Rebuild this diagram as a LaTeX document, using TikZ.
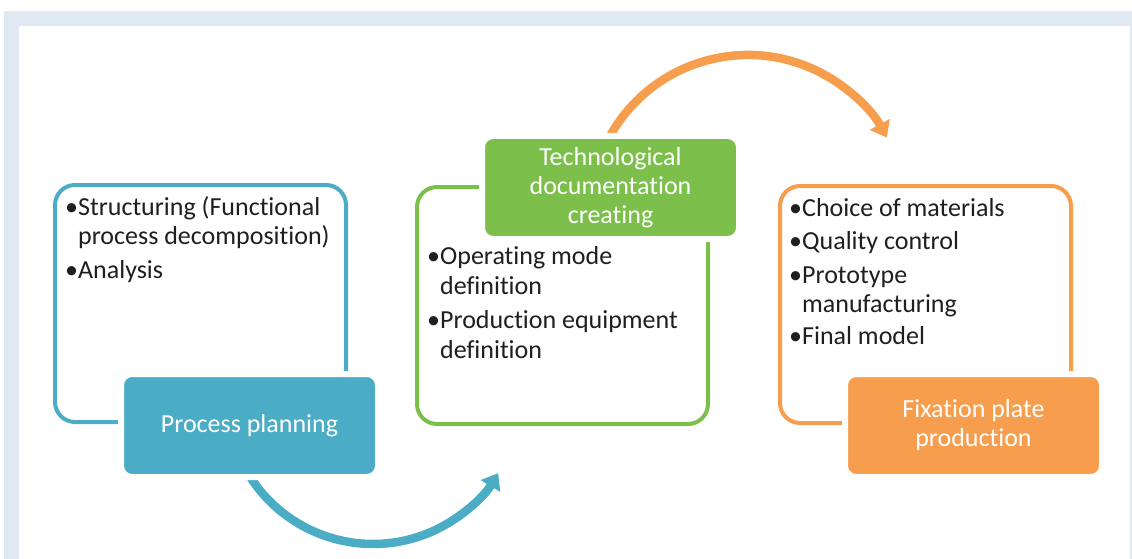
\documentclass[tikz,border=0pt]{standalone}
\usepackage{fontspec}
\setmainfont{Carlito}[Ligatures=NoCommon]
\usepackage{xcolor}
\usetikzlibrary{arrows.meta}

\definecolor{planblue}{HTML}{4BACC6}
\definecolor{docgreen}{HTML}{7CC04B}
\definecolor{plateorange}{HTML}{F79E4E}
\definecolor{frameblue}{HTML}{E0E8F4}

\begin{document}
\begin{tikzpicture}[x=1pt, y=-1pt,
    outline/.style={draw=#1, line width=4pt, rounded corners=20pt, anchor=north west,
        minimum width=291pt, minimum height=237pt, inner sep=0pt},
    stagebox/.style={fill=#1, draw=white, line width=6pt, rounded corners=11pt, anchor=north west,
        minimum width=257pt, minimum height=103pt, inner sep=0pt, text=white, align=center,
        font=\fontsize{26}{29}\selectfont},
    listtext/.style={anchor=base west, align=left, inner sep=0pt, text=black!88,
        font=\fontsize{26}{29.5}\selectfont},
    flow/.style={line width=8.5pt, -{Triangle[length=15pt,width=22pt]}}]

    % Frame
    \fill[white] (0,0) rectangle (1132,559);
    \fill[frameblue] (4,11) rectangle (1132,559);
    \fill[white] (19,26) rectangle (1130,559);
    \useasboundingbox (0,0) rectangle (1132,559);

    % Outline boxes
    \node[outline=planblue] (planframe) at (53,183) {};
    \node[outline=docgreen] (docframe) at (415,185) {};
    \node[outline=plateorange] (plateframe) at (778,184) {};

    % Flow arcs
    \coordinate (planout) at (244.1,466.5);
    \coordinate (docout) at (608.5,138.8);
    \draw[flow, planblue] (planout) arc[start angle=208, end angle=329, radius=146pt];
    \draw[flow, plateorange] (docout) arc[start angle=152, end angle=28.5, radius=158pt];

    % Stage boxes
    \node[stagebox=planblue] (plan) at (118,371) {Process planning};
    \node[stagebox=docgreen] (doc) at (479,133) {Technological\\documentation\\creating};
    \node[stagebox=plateorange] (plate) at (842,371) {Fixation plate\\production};

    % Lists (base = last line)
    \node[listtext] (planlist) at (65,278)
        {•Structuring (Functional\\\phantom{•}process decomposition)\\[4pt]•Analysis};
    \node[listtext] (doclist) at (427,358)
        {•Operating mode\\\phantom{•}definition\\[5pt]•Production equipment\\\phantom{•}definition};
    \node[listtext] (platelist) at (789,344)
        {•Choice of materials\\[4pt]•Quality control\\[4pt]•Prototype\\\phantom{•}manufacturing\\[2pt]•Final model};
\end{tikzpicture}
\end{document}
